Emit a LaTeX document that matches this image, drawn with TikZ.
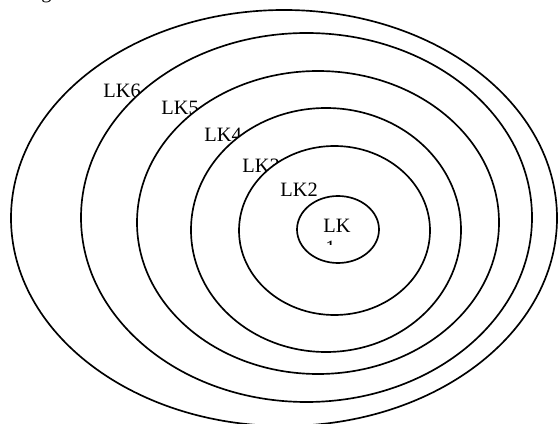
\documentclass[tikz,border=0pt]{standalone}
\usepackage{fontspec}
\setmainfont{Liberation Serif}
\usepackage{tikz}
\usetikzlibrary{positioning}

\begin{document}
\begin{tikzpicture}[every node/.style={inner sep=0pt},font=\fontsize{11.6}{13}\selectfont,ring/.style={draw,line width=0.95pt,fill=white}]
\useasboundingbox (0,0) rectangle (11.18,8.46);
% caption fragment cut at the top
\begin{scope}
\clip (0,0) rectangle (11.18,8.46);
\node[anchor=base west] (cap) at (0.82,8.49) {g};
\end{scope}
% level 6
\draw[ring] (5.68,4.10) ellipse (5.46 and 4.16);
\node[anchor=base west] (lk6) at (2.06,6.50) {LK6};
% level 5
\draw[ring] (6.13,4.11) ellipse (4.51 and 3.69);
\node[anchor=base west] (lk5) at (3.22,6.16) {LK5};
% level 4
\draw[ring] (6.36,4.01) ellipse (3.62 and 3.03);
\node[anchor=base west] (lk4) at (4.08,5.63) {LK4};
% level 3
\draw[ring] (6.52,3.86) ellipse (2.70 and 2.44);
\node[anchor=base west] (lk3) at (4.84,5.01) {LK3};
% level 2
\draw[ring] (6.69,3.85) ellipse (1.91 and 1.69);
\node[anchor=base west] (lk2) at (5.60,4.52) {LK2};
% level 1 (text box too small: second line clipped)
\draw[ring] (6.76,3.87) ellipse (0.82 and 0.67);
\node[anchor=base west] (lk1) at (6.46,3.80) {LK};
\begin{scope}
\clip (6.3,3.56) rectangle (7.2,3.75);
\node[anchor=base west] (lk1b) at (6.50,3.36) {1};
\end{scope}
\end{tikzpicture}
\end{document}
